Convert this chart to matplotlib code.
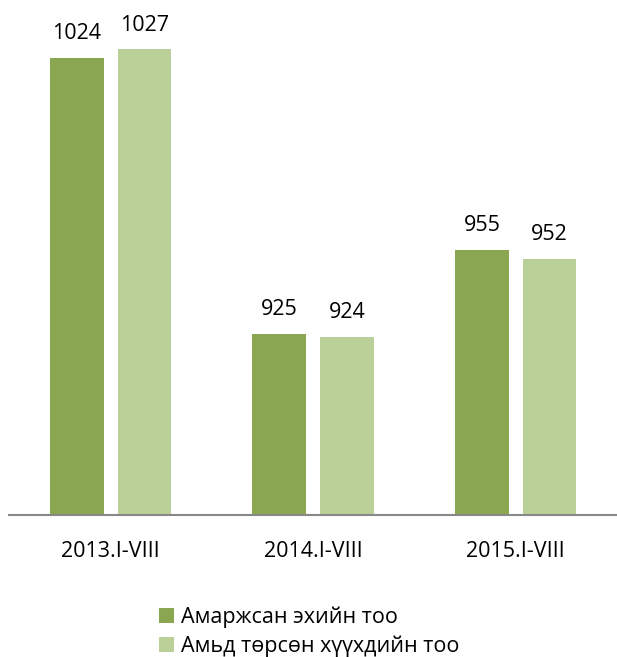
import numpy as np
import matplotlib.pyplot as plt

plt.rcParams['font.family'] = ['Open Sans', 'DejaVu Sans']

# data
periods = ['2013.I-VIII', '2014.I-VIII', '2015.I-VIII']
mothers = [1024, 925, 955]
births = [1027, 924, 952]
labels = ['Амаржсан эхийн тоо', 'Амьд төрсөн хүүхдийн тоо']

barWidth = 0.265
gap = 0.069
col1 = '#8BA650'
col2 = '#BBCF99'

fig = plt.figure(figsize=(6.17, 6.57), dpi=100)
ax = fig.add_axes([0.015, 0.216, 0.985, 0.764])

x = np.arange(len(periods))
b1 = ax.bar(x - (barWidth + gap) / 2, mothers, width=barWidth, color=col1, label=labels[0])
b2 = ax.bar(x + (barWidth + gap) / 2, births, width=barWidth, color=col2, label=labels[1])

for bars in (b1, b2):
    for rect in bars:
        h = rect.get_height()
        ax.annotate(str(h), (rect.get_x() + rect.get_width() / 2, h),
                    xytext=(0, 10), textcoords='offset points',
                    ha='center', va='bottom', fontsize=15.5, color='black')

ax.set_ylim(860, 1040)
ax.set_xlim(-0.5, 2.5)
ax.set_xticks(x)
ax.set_xticklabels(periods, fontsize=15.5)
ax.tick_params(axis='x', length=0, pad=19)
ax.set_yticks([])
for s in ['top', 'right', 'left']:
    ax.spines[s].set_visible(False)
ax.spines['bottom'].set_color('#888888')
ax.spines['bottom'].set_linewidth(1.5)

fig.legend(loc='upper left', bbox_to_anchor=(0.24, 0.093), frameon=False,
           fontsize=15.5, handlelength=0.7, handleheight=0.7,
           handletextpad=0.35, labelspacing=0.36, borderpad=0)

fig.savefig('out.png', dpi=100)
